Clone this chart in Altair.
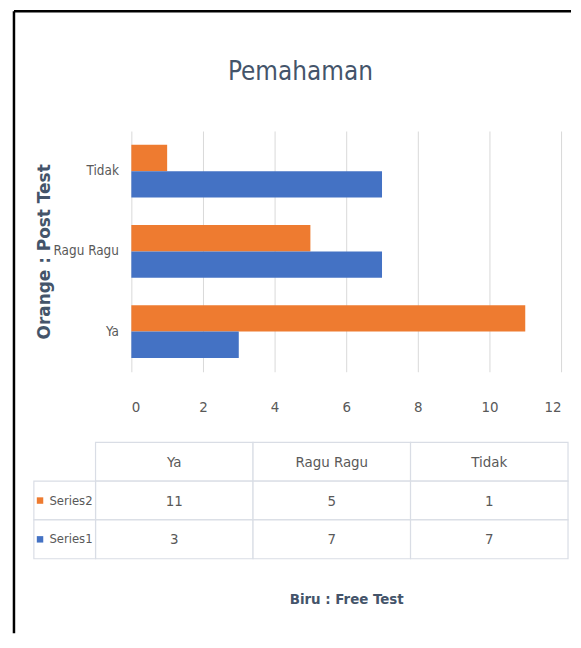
import altair as alt
import pandas as pd

# ---- data ----
categories = ["Ya", "Ragu Ragu", "Tidak"]
series_names = ["Series2", "Series1"]
series1 = [3, 7, 7]      # blue  (Free Test)
series2 = [11, 5, 1]     # orange (Post Test)
x_ticks = [0, 2, 4, 6, 8, 10, 12]

title_text = "Pemahaman"
y_title = "Orange : Post Test"
x_title = "Biru : Free Test"

ORANGE = "#EE7B30"
BLUE = "#4472C4"
SLATE = "#44546A"
GRAY = "#595959"
LINE = "#D9DDE5"
NARROW = "Liberation Sans Narrow, Arial Narrow, DejaVu Sans Condensed, sans-serif"

W, H = 432, 242

rows = []
for c, v1, v2 in zip(categories, series1, series2):
    rows.append({"cat": c, "series": "Series2", "value": v2})
    rows.append({"cat": c, "series": "Series1", "value": v1})
df = pd.DataFrame(rows)

bars = alt.Chart(df).mark_bar().encode(
    x=alt.X(
        "value:Q",
        scale=alt.Scale(domain=[0, 12], nice=False),
        axis=alt.Axis(
            values=x_ticks, grid=True, gridColor="#D9D9D9", domain=False, ticks=False,
            labelFont=NARROW, labelFontSize=15, labelColor=GRAY, labelPadding=28,
            title=x_title, titleFont=NARROW, titleFontSize=15, titleFontWeight="bold",
            titleColor=SLATE, titleY=228, titleBaseline="middle",
        ),
    ),
    y=alt.Y(
        "cat:N",
        sort=["Tidak", "Ragu Ragu", "Ya"],
        scale=alt.Scale(paddingInner=0.34, paddingOuter=0.17),
        axis=alt.Axis(
            domain=False, ticks=False,
            labelFont=NARROW, labelFontSize=13.5, labelColor=GRAY, labelPadding=13,
            title=y_title, titleFont="DejaVu Sans", titleFontSize=17, titleFontWeight="bold",
            titleColor=SLATE, titleX=-87, titleY=H / 2, titleBaseline="middle",
        ),
    ),
    yOffset=alt.YOffset("series:N", sort=series_names,
                        scale=alt.Scale(paddingInner=0, paddingOuter=0)),
    color=alt.Color("series:N", scale=alt.Scale(domain=series_names, range=[ORANGE, BLUE]),
                    legend=None),
)

# ---- data table below the plot ----
cells = []
for c, v1, v2 in zip(categories, series1, series2):
    cells.append({"col": c, "row": "header", "text": c})
    cells.append({"col": c, "row": "Series2", "text": str(v2)})
    cells.append({"col": c, "row": "Series1", "text": str(v1)})
cells_df = pd.DataFrame(cells)

row_domain = ["header", "Series2", "Series1"]
ty = alt.Y("row:N", scale=alt.Scale(type="band", domain=row_domain, range=[313, 430],
                                     paddingInner=0, paddingOuter=0), axis=None)
tx = alt.X("col:N", scale=alt.Scale(type="band", domain=categories, range=[-36, 439],
                                     paddingInner=0, paddingOuter=0), axis=None)

table_rect = alt.Chart(cells_df).mark_rect(fill="white", stroke=LINE, strokeWidth=1.2).encode(
    x=tx, y=ty)
table_text = alt.Chart(cells_df).mark_text(font=NARROW, fontSize=15, color=GRAY).encode(
    x=tx, y=ty, text="text:N")

labels_df = pd.DataFrame({"lab": ["label", "label"], "row": series_names,
                          "color": [ORANGE, BLUE]})
lx_scale = alt.Scale(type="band", domain=["label"], range=[-98, -36],
                     paddingInner=0, paddingOuter=0)
label_rect = alt.Chart(labels_df).mark_rect(fill="white", stroke=LINE, strokeWidth=1.2).encode(
    x=alt.X("lab:N", scale=lx_scale, axis=None), y=ty)
label_text = alt.Chart(labels_df).mark_text(font=NARROW, fontSize=13, color=GRAY,
                                            align="right", dx=-3).encode(
    x=alt.X("lab:N", scale=lx_scale, axis=None, bandPosition=1), y=ty, text="row:N")
label_sq = alt.Chart(labels_df).mark_square(size=42, opacity=1).encode(
    x=alt.X("lab:N", scale=lx_scale, axis=None, bandPosition=0.1), y=ty,
    color=alt.Color("color:N", scale=None))

# ---- title and frame ----
one = pd.DataFrame({"t": [title_text]})
title = alt.Chart(one).mark_text(font=NARROW, fontSize=26, color=SLATE,
                                 baseline="alphabetic", align="center").encode(
    x=alt.value(170), y=alt.value(-51), text="t:N")
frame_top = alt.Chart(one).mark_rule(color="black", strokeWidth=2.5).encode(
    x=alt.value(-118), x2=alt.value(442), y=alt.value(-120.5))
frame_left = alt.Chart(one).mark_rule(color="black", strokeWidth=2.5).encode(
    x=alt.value(-118), y=alt.value(-120.5), y2=alt.value(505))

chart = alt.layer(
    bars, table_rect, table_text, label_rect, label_text, label_sq, title, frame_top, frame_left
).resolve_scale(x="independent", y="independent", color="independent").properties(
    width=W, height=H, background="white",
    padding={"left": 4, "top": 0, "right": 0, "bottom": 0}
).configure_view(strokeWidth=0, stroke="transparent")

chart.save("out.html", embed_options={"renderer": "svg", "actions": False})
